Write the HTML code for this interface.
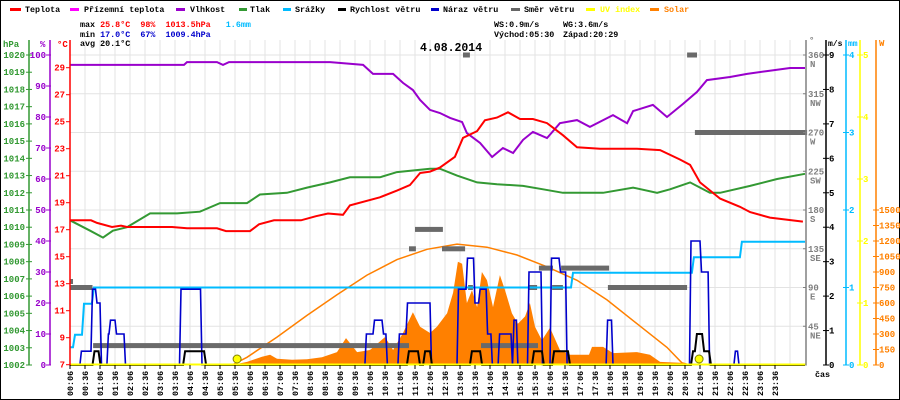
<!DOCTYPE html>
<html><head><meta charset="utf-8"><style>
html,body{margin:0;padding:0;background:#fff}
svg{display:block}
text{font-family:"Liberation Mono",monospace;font-weight:bold;white-space:pre}
</style></head><body>
<svg id="c" width="900" height="400" xmlns="http://www.w3.org/2000/svg">
<rect x="0.5" y="0.5" width="899" height="399" fill="#fff" stroke="#000"/>
<g id="grid"></g>
<g id="series"></g>
<g id="axes"></g>
<g font-size="8.4">
 <rect x="10" y="8" width="11" height="3" fill="#ff0000"/><text x="25" y="12">Teplota</text>
 <rect x="70" y="8" width="9" height="3" fill="#ff00ff"/><text x="84" y="12">Přízemní teplota</text>
 <rect x="176" y="8" width="9" height="3" fill="#9900cc"/><text x="190" y="12">Vlhkost</text>
 <rect x="239" y="8" width="8" height="3" fill="#339933"/><text x="250" y="12">Tlak</text>
 <rect x="283" y="8" width="8" height="3" fill="#00bbff"/><text x="295" y="12">Srážky</text>
 <rect x="338" y="8" width="8" height="3" fill="#000"/><text x="350" y="12">Rychlost větru</text>
 <rect x="431" y="8" width="8" height="3" fill="#0000cc"/><text x="443" y="12">Náraz větru</text>
 <rect x="511" y="8" width="9" height="3" fill="#666"/><text x="524" y="12">Směr větru</text>
 <rect x="586" y="8" width="9" height="3" fill="#ffff00"/><text x="600" y="12" fill="#ffff00">UV index</text>
 <rect x="650" y="8" width="9" height="3" fill="#ff8000"/><text x="664" y="12" fill="#ff8000">Solar</text>
</g>
<g font-size="8.4">
 <text x="80" y="27" xml:space="preserve">max <tspan fill="#ff0000">25.8°C</tspan>  <tspan fill="#ff0000">98%</tspan>  <tspan fill="#ff0000">1013.5hPa</tspan>   <tspan fill="#00bbff">1.6mm</tspan></text>
 <text x="80" y="37" xml:space="preserve">min <tspan fill="#0000cc">17.0°C</tspan>  <tspan fill="#0000cc">67%</tspan>  <tspan fill="#0000cc">1009.4hPa</tspan></text>
 <text x="80" y="46">avg 20.1°C</text>
 <text x="494" y="27">WS:0.9m/s</text>
 <text x="563" y="27">WG:3.6m/s</text>
 <text x="494" y="37">Východ:05:30</text>
 <text x="563" y="37">Západ:20:29</text>
 <text x="420" y="51" font-size="11.5">4.08.2014</text>
 <text x="815" y="377">čas</text>
</g>
</svg>
<script>
// ---- data ----
const tempH=[0.1,0.8,1,1.5,1.8,2,3.5,4,5,5.3,6.1,6.4,6.9,7.8,8.3,8.7,9.2,9.43,10.43,11,11.43,11.77,12.1,12.43,12.93,13.2,13.67,13.93,14.33,14.7,15.1,15.53,16,16.53,17,17.77,19,19.77,20.43,20.77,21.1,21.77,22.43,22.77,23.43,24.53];
const tempV=[17.7,17.7,17.5,17.2,17.3,17.2,17.2,17.1,17.1,16.9,16.9,17.4,17.7,17.7,18.0,18.2,18.1,18.8,19.4,19.9,20.3,21.2,21.3,21.6,22.4,23.8,24.3,25.1,25.3,25.7,25.2,25.2,24.9,24.0,23.1,23.0,23.0,22.9,22.2,21.8,20.5,19.3,18.7,18.3,17.9,17.6];
const humH=[0.1,3.9,4,5,5.2,5.4,8.77,9.87,10.2,10.87,11.2,11.53,11.77,12.1,12.43,12.77,13.17,13.33,13.77,14.17,14.53,14.87,15.2,15.53,16,16.43,17,17.43,18.2,18.67,18.87,19.53,20,20.53,21,21.33,22.1,22.67,23.33,24.1,24.6];
const humV=[96.8,96.8,97.7,97.7,96.8,97.7,97.7,96.8,93.9,93.9,91,88.7,85.5,82.3,81.3,79.7,78.4,74.8,71.6,67.1,70,68.4,72.6,75.2,73.2,78,79,76.8,80.6,78,81.9,83.9,80,84.2,88.1,91.9,92.9,93.9,94.8,95.8,95.8];
const presH=[0.1,0.77,1.2,1.53,2,2.77,3.67,4.43,5.1,6,6.43,7.33,8,8.77,9.43,10.43,11,12.1,12.43,13,13.67,14.33,15.2,15.87,16.53,17.87,18.87,19.67,20.1,20.77,21.43,21.77,22.77,23.67,24.6];
const presV=[1010.4,1009.8,1009.4,1009.8,1010.0,1010.8,1010.8,1010.9,1011.4,1011.4,1011.9,1012.0,1012.3,1012.6,1012.9,1012.9,1013.2,1013.4,1013.4,1013.0,1012.6,1012.5,1012.4,1012.2,1012.0,1012.0,1012.3,1012.0,1012.2,1012.6,1012.0,1012.0,1012.4,1012.8,1013.1];
const rainH=[0.1,0.2,0.5,0.83,16.8,20.83,22.43];
const rainV=[0.23,0.39,0.79,1.0,1.19,1.39,1.59];
const gustH=[0.1,0.43,0.8,0.95,1.1,1.33,1.4,1.6,1.9,3.75,4.45,9.93,10.2,10.5,10.63,11.03,11.3,12.1,13.0,13.3,13.55,13.72,13.97,14.13,14.37,14.8,14.85,14.98,15.35,15.8,16.1,16.4,16.62,17.97,18.15,20.75,21.1,21.37,22.23,22.35];
const gustV=[0,0.4,2.2,1.8,0,0.9,1.3,0.9,0,2.2,0,0.9,1.3,0.9,0,0.9,1.8,0,2.2,3.1,1.8,2.2,0.9,0,0.9,0,1.3,0,2.7,0,3.1,2.7,0,1.3,0,3.6,2.7,0,0.4,0];
const windH=[0.1,0.85,1.05,3.87,4.57,11.33,11.7,11.87,12.1,13.43,13.77,15.5,15.83,16.17,16.7,20.8,20.93,21.17,21.4];
const windV=[0,0.4,0,0.4,0,0.4,0,0.4,0,0.4,0,0.4,0,0.4,0,0.4,0.9,0.4,0];
const dirStart=[0.1,0.1,0.87,11.4,11.6,12.5,13.2,13.37,13.8,15.4,15.73,16.17,16.47,18.03,20.67,20.93];
const dirEnd=[0.2,0.85,11.4,11.63,12.53,13.27,13.43,13.53,15.7,15.67,16.2,16.53,18.07,20.67,21.0,24.67];
const dirDeg=[97,90,22.5,135,157.5,135,360,90,22.5,90,112.5,90,112.5,90,360,270];
const solH=[5.5,6,6.5,6.77,7,7.5,8,8.5,9,9.3,9.67,10.1,10.6,10.87,11.2,11.53,11.77,12.1,12.33,12.67,12.87,13.03,13.17,13.33,13.5,13.67,13.83,14,14.2,14.43,14.6,14.83,15.03,15.27,15.43,15.6,15.83,16.1,16.43,16.77,17.4,17.5,17.87,18.2,19,19.43,19.77,20.53,20.77];
const solV=[0,30,80,100,60,50,55,75,125,260,125,145,270,145,310,510,370,310,370,500,700,1000,980,600,725,560,900,820,560,870,725,500,400,470,600,370,240,360,145,100,100,175,175,115,125,100,30,20,0];
const clearH=[5.5,6,7,8,9,10,11,12,13,14,15,16,17,18,19,20,20.5,20.77];
const clearV=[0,75,270,480,680,870,1020,1120,1170,1140,1065,950,820,630,400,170,20,0];
const sunMarkH=[5.67,21.07];
const hpaTicks=[1020,1019,1018,1017,1016,1015,1014,1013,1012,1011,1010,1009,1008,1007,1006,1005,1004,1003,1002];
const humTicks=[100,90,80,70,60,50,40,30,20,10,0];
const tempTicks=[29,27,25,23,21,19,17,15,13,11,9,7];
const dirTicks=[360,315,270,225,180,135,90,45];
const dirNames=['N','NW','W','SW','S','SE','E','NE'];
const msTicks=[9,8,7,6,5,4,3,2,1,0];
const mmTicks=[4,3,2,1,0];
const uvTicks=[5,4,3,2,1,0];
const wTicks=[1500,1350,1200,1050,900,750,600,450,300,150,0];

// ---- scales ----
const X=h=>67+30*h;
const yT=t=>67.7+(29-t)*13.5;
const yHum=p=>55+(100-p)*3.1;
const yP=p=>55+(1020-p)*17.222;
const yMs=v=>365-v*34.444;
const yMm=v=>365-v*77.5;
const yUV=v=>365-v*62;
const yDir=d=>365-d*0.8611;
const yW=w=>365-w*0.10333;

const NS='http://www.w3.org/2000/svg';
function mk(tag,attrs,parent){const e=document.createElementNS(NS,tag);for(const k in attrs)e.setAttribute(k,attrs[k]);parent.appendChild(e);return e;}
const G=document.getElementById('grid'),S=document.getElementById('series'),A=document.getElementById('axes');

for(let k=0;k<=48;k++){
  const l=mk('line',{x1:70+15*k,x2:70+15*k,y1:40,y2:365,stroke:'#e3e3e3','stroke-width':1},G);
  
  
}
for(let j=0;j<8;j++){
  const y=55+38.75*j;
  const l=mk('line',{x1:70,x2:806,y1:y,y2:y,stroke:'#e3e3e3','stroke-width':1},G);
  
  
}

function linePath(hs,vs,ys){return hs.map((h,i)=>(i?'L':'M')+X(h).toFixed(1)+','+ys(vs[i]).toFixed(1)).join(' ');}
function stepPath(hs,vs,ys,ramp,endH){
  let d='M'+X(hs[0]).toFixed(1)+','+ys(vs[0]).toFixed(1);
  for(let i=1;i<hs.length;i++){d+=' L'+X(hs[i]).toFixed(1)+','+ys(vs[i-1]).toFixed(1)+' L'+(X(hs[i])+ramp).toFixed(1)+','+ys(vs[i]).toFixed(1);}
  d+=' L'+X(endH).toFixed(1)+','+ys(vs[vs.length-1]).toFixed(1);
  return d;
}

let sd='M'+X(solH[0])+',365 '+solH.map((h,i)=>'L'+X(h).toFixed(1)+','+yW(solV[i]).toFixed(1)).join(' ')+' L'+X(solH[solH.length-1])+',365 Z';
const solar=mk('path',{d:sd,fill:'#ff8000'},S);


const clr=mk('path',{d:linePath(clearH,clearV,yW),fill:'none',stroke:'#ff8000','stroke-width':1.5},S);


for(let i=0;i<dirDeg.length;i++){
  const r=mk('rect',{x:X(dirStart[i]).toFixed(1),y:(yDir(dirDeg[i])-2.5).toFixed(1),width:(X(dirEnd[i])-X(dirStart[i])).toFixed(1),height:5,fill:'#6a6a6a'},S);
  
  
}
const rain=mk('path',{d:stepPath(rainH,rainV,yMm,2,24.6),fill:'none',stroke:'#00bbff','stroke-width':2},S);


const gust=mk('path',{d:stepPath(gustH,gustV,yMs,1.5,24.6),fill:'none',stroke:'#0000cc','stroke-width':1.6},S);


const wind=mk('path',{d:stepPath(windH,windV,yMs,2,24.6),fill:'none',stroke:'#000','stroke-width':2},S);


const pres=mk('path',{d:linePath(presH,presV,yP),fill:'none',stroke:'#339933','stroke-width':2},S);


const hum=mk('path',{d:linePath(humH,humV,yHum),fill:'none',stroke:'#9900cc','stroke-width':2},S);


const temp=mk('path',{d:linePath(tempH,tempV,yT),fill:'none',stroke:'#ff0000','stroke-width':2},S);


const uv=mk('line',{x1:70,x2:806,y1:364.5,y2:364.5,stroke:'#ffff00','stroke-width':2},S);


for(const h of sunMarkH){
  const c=mk('circle',{cx:X(h),cy:359,r:4,fill:'#ffff00',stroke:'#808000','stroke-width':1},S);
  
  
}

function vline(x,color,name){const l=mk('line',{x1:x,x2:x,y1:40,y2:365.5,stroke:color,'stroke-width':1.5},A);}
function lab(x,y,str,color,anchor,name,fs){const t=mk('text',{x:x,y:y,fill:color,'text-anchor':anchor,'font-size':fs||9},A);t.textContent=str;return t;}
function tick(x1,x2,y,color){const l=mk('line',{x1:x1,x2:x2,y1:y,y2:y,stroke:color,'stroke-width':1},A);}

vline(29,'#339933','pressure-axis');
lab(3,47,'hPa','#339933','start','pressure-axis-title');
for(const p of hpaTicks){tick(26,32,yP(p),'#339933');lab(25,yP(p)+3,String(p),'#339933','end','pressure-tick-label');}
vline(50,'#9900cc','humidity-axis');
lab(40,47,'%','#9900cc','start','humidity-axis-title');
for(const p of humTicks){tick(46,51,yHum(p),'#9900cc');lab(46,yHum(p)+3,String(p),'#9900cc','end','humidity-tick-label');}
vline(70,'#ff0000','temperature-axis');
lab(57,47,'°C','#ff0000','start','temperature-axis-title');
for(const t of tempTicks){tick(66,70,yT(t),'#ff0000');lab(65,yT(t)+3,String(t),'#ff0000','end','temperature-tick-label');}

vline(806,'#808080','direction-axis');
lab(809,43,'°','#808080','start','direction-axis-title');
dirTicks.forEach((d,i)=>{tick(803,806,yDir(d),'#808080');lab(808,yDir(d)+3,String(d),'#808080','start','direction-tick-label');lab(810,yDir(d)+12,dirNames[i],'#808080','start','direction-compass-label');});
vline(826,'#000','wind-speed-axis');
lab(828,46,'m/s','#000','start','wind-speed-axis-title',8);
for(const v of msTicks){tick(823,829,yMs(v),'#000');lab(829,yMs(v)+3,String(v),'#000','start','wind-speed-tick-label');}
vline(846,'#00bbff','rain-axis');
lab(848,46,'mm','#00bbff','start','rain-axis-title',8);
for(const v of mmTicks){tick(843,849,yMm(v),'#00bbff');lab(849,yMm(v)+3,String(v),'#00bbff','start','rain-tick-label');}
vline(860,'#ffff00','uv-axis');
for(const v of uvTicks){tick(857,863,yUV(v),'#ffff00');lab(863,yUV(v)+3,String(v),'#ffff00','start','uv-tick-label');}
vline(876,'#ff8000','solar-axis');
lab(879,46,'W','#ff8000','start','solar-axis-title');
for(const v of wTicks){tick(873,879,yW(v),'#ff8000');lab(879,yW(v)+3,String(v),'#ff8000','start','solar-tick-label');}

for(let k=0;k<48;k++){
  const m=6+30*k, hh=String(Math.floor(m/60)).padStart(2,'0'), mm=String(m%60).padStart(2,'0');
  const x=70+15*k;
  const tk=mk('line',{x1:x,x2:x,y1:365,y2:369,stroke:'#000','stroke-width':1},A);
  
  
  const t=mk('text',{x:x+3,y:396,'font-size':8.4,transform:'rotate(-90 '+(x+3)+' 396)'},A);
  t.textContent=hh+':'+mm;
  
  
}
</script>
</body></html>
